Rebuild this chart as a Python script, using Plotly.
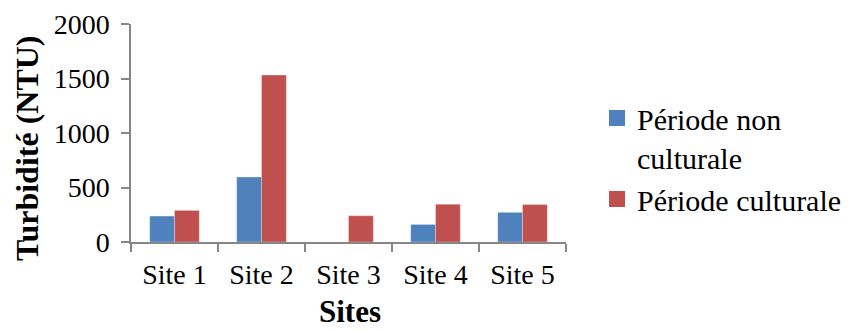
import plotly.graph_objects as go

sites = ["Site 1", "Site 2", "Site 3", "Site 4", "Site 5"]
non_culturale = [238, 596, 0, 161, 272]
culturale = [290, 1531, 241, 346, 343]
y_ticks = [0, 500, 1000, 1500, 2000]

series_names = ["Période non<br>culturale", "Période culturale"]
colors = ["#4F81BD", "#C0504D"]

W, H = 852, 331
L, R, T, B = 131, 286, 24, 89
pw = W - L - R
ph = H - T - B

font = "Liberation Serif"
axis_color = "#868686"

fig = go.Figure()
for name, vals, col in zip(series_names, [non_culturale, culturale], colors):
    fig.add_trace(go.Bar(
        x=sites, y=vals, name=name, marker_color=col,
        marker_line=dict(color="rgba(255,255,255,0.5)", width=0.6),
        showlegend=False,
    ))
    # legend entry with a larger square key
    fig.add_trace(go.Scatter(
        x=[None], y=[None], mode="markers", name=name,
        marker=dict(symbol="square", size=16, color=col),
    ))

fig.update_layout(
    width=W, height=H,
    margin=dict(l=L, r=R, t=T, b=B, autoexpand=False),
    paper_bgcolor="white", plot_bgcolor="white",
    barmode="group", bargap=0.43, bargroupgap=0,
    font=dict(family=font, size=28, color="black"),
    legend=dict(
        x=(597 - L) / pw, y=(H - B - 92) / ph, xanchor="left", yanchor="top",
        xref="paper", yref="paper", valign="top",
        font=dict(family=font, size=30, color="black"),
        itemwidth=30, bgcolor="rgba(0,0,0,0)", tracegroupgap=0,
    ),
    xaxis=dict(
        showline=True, linecolor=axis_color, linewidth=1.5,
        ticks="outside", tickson="boundaries", ticklen=8, tickcolor=axis_color, tickwidth=1.5,
        tickfont=dict(family=font, size=28, color="black"), showgrid=False,
        ticklabelstandoff=7,
    ),
    yaxis=dict(
        range=[0, 2000], tickvals=y_ticks, showline=True, linecolor=axis_color, linewidth=1.5,
        ticks="outside", ticklen=8, tickcolor=axis_color, tickwidth=1.5,
        tickfont=dict(family=font, size=28, color="black"), showgrid=False, zeroline=False,
        ticklabelstandoff=6,
    ),
    annotations=[
        dict(text="<b>Sites</b>", xref="paper", yref="paper",
             x=(350 - L) / pw, y=(H - B - 311) / ph, xanchor="center", yanchor="middle",
             showarrow=False, font=dict(family=font, size=31, color="black")),
        dict(text="<b>Turbidité (NTU)</b>", xref="paper", yref="paper",
             x=(27 - L) / pw, y=(H - B - 148) / ph, xanchor="center", yanchor="middle",
             textangle=-90, showarrow=False, font=dict(family=font, size=32, color="black")),
    ],
)

fig.write_html("out.html")
